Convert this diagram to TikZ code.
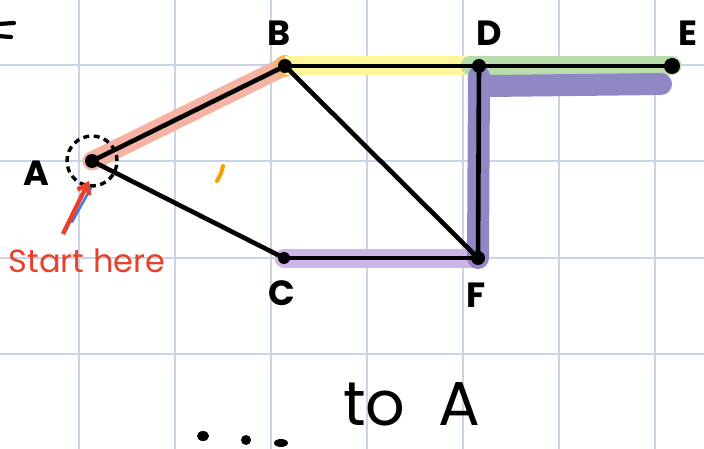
\documentclass[tikz,border=0pt]{standalone}
\usepackage{fontspec}
\setmainfont{Poppins}
\usetikzlibrary{arrows.meta}
\definecolor{gridc}{HTML}{C9D4E6}
\definecolor{salmon}{HTML}{F4B3A3}
\definecolor{yel}{HTML}{FFF79A}
\definecolor{grn}{HTML}{B9DDAA}
\definecolor{dpur}{HTML}{9088C4}
\definecolor{lpur}{HTML}{CDB5EA}
\definecolor{orng}{HTML}{F5B562}
\definecolor{redc}{HTML}{E8402A}
\definecolor{bluc}{HTML}{3A7BE8}
\definecolor{tick}{HTML}{F5A100}
\begin{document}
\begin{tikzpicture}[x=1pt,y=-1pt,
  vert/.style={circle,fill=black,inner sep=0pt,minimum size=14pt},
  lbl/.style={font=\fontsize{35}{35}\selectfont\bfseries,inner sep=0pt},
  edge/.style={line width=4.6pt,black},
  hl/.style={line width=19pt,line cap=round}]
\useasboundingbox (0,0) rectangle (704,449);
\fill[white] (0,0) rectangle (704,449);
% grid
\foreach \x in {79,175,271,367,463,559,655} \draw[gridc,line width=1.3pt] (\x,0) -- (\x,449);
\foreach \y in {65,161,258,354} \draw[gridc,line width=1.3pt] (0,\y) -- (704,\y);
% coordinates
\coordinate (A) at (92,161);
\coordinate (B) at (285,66);
\coordinate (D) at (479,66);
\coordinate (E) at (672,66);
\coordinate (C) at (284,258);
\coordinate (F) at (478,258);
\coordinate (Dp) at (479,76);
\coordinate (P1) at (489,86);
\coordinate (P2) at (661,84);
% highlights
\draw[hl,salmon] (A) -- (B);
\fill[orng] (B) circle (11pt);
\draw[hl,yel,line cap=butt] (B) -- (470,66);
\draw[hl,grn] (470,66) -- (E);
\draw[hl,lpur,line width=19pt] (C) -- (F);
\draw[hl,dpur,line width=22pt] (Dp) -- (F);
\draw[hl,dpur,line width=22pt] (P1) -- (P2);
% edges
\draw[edge] (A) -- (B);
\draw[edge] (A) -- (C);
\draw[edge] (B) -- (D);
\draw[edge] (D) -- (E);
\draw[edge] (B) -- (F);
\draw[edge] (C) -- (F);
\draw[edge] (D) -- (F);
% vertices
\node[vert] (nA) at (A) {};
\node[vert] (nB) at (B) {};
\node[vert] (nD) at (D) {};
\node[vert,minimum size=16pt] (nE) at (E) {};
\node[vert,minimum size=12pt] (nC) at (C) {};
\node[vert] (nF) at (F) {};
% dashed circle around A
\draw[black,line width=3.4pt,dash pattern=on 6pt off 4.5pt] (A) circle (25pt);
% labels
\node[lbl] (lA) at (36,173) {A};
\node[lbl] (lB) at (279,33) {B};
\node[lbl] (lD) at (489,33) {D};
\node[lbl] (lE) at (688,33) {E};
\node[lbl] (lC) at (282,293) {C};
\node[lbl] (lF) at (476,295) {F};
% cut-off mark at left edge
\draw[black,line width=4.2pt,line cap=round] (-2,24) -- (14,23);
\draw[black,line width=4.2pt,line cap=round] (-2,36) -- (11,37);
% start here arrow
\coordinate (s0) at (63,234);
\coordinate (s1) at (89,181);
\draw[bluc,line width=2.4pt,line cap=round] (72,222) -- (91,188);
\draw[redc,line width=4.4pt,-{Straight Barb[length=9pt,width=13pt]}] (s0) -- (s1);
\node[redc,font=\fontsize{32}{32}\selectfont,inner sep=0pt] (start) at (87,261) {Start here};
% orange tick
\draw[tick,line width=4pt,line cap=round] (223,166) .. controls (221,174) .. (217,181);
% bottom text
\fill[black] (203,436) ellipse (6pt and 5pt);
\fill[black] (246,440) ellipse (5pt and 5pt);
\fill[black] (281,443) ellipse (7pt and 4pt);
\node[font=\fontsize{62}{62}\selectfont,inner sep=0pt] (bottom) at (412,404) {to\ \ A};
\end{tikzpicture}
\end{document}
